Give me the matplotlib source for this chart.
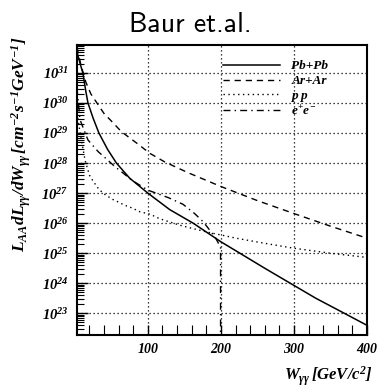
import numpy as np
import matplotlib
matplotlib.use("Agg")
import matplotlib.pyplot as plt
from matplotlib.ticker import LogLocator, NullFormatter, MultipleLocator, FixedLocator

# values (exponents of L_AA dL/dW)
w_pb = [4, 8, 11, 15, 18, 25, 33, 45, 57, 75, 100, 130, 162, 200, 226, 260, 295, 330, 369, 400]
lg_pb = [31.6, 31.25, 31.0, 30.4, 30.0, 29.5, 29.0, 28.45, 28.0, 27.5, 27.0, 26.45, 26.0,
         25.38, 25.0, 24.5, 24.0, 23.5, 23.0, 22.6]

w_ar = [3, 8, 15, 22, 40, 52, 64, 85, 103, 123, 155, 200, 250, 300, 350, 400]
lg_ar = [31.85, 31.3, 30.7, 30.3, 29.65, 29.35, 29.04, 28.66, 28.32, 28.04, 27.68, 27.22,
         26.75, 26.32, 25.9, 25.5]

w_pp = [4, 8, 14, 20, 25, 32, 39, 46, 52, 59, 68, 78, 89, 103, 116, 144, 180, 221, 260, 299, 350, 400]
lg_pp = [29.5, 28.9, 28.1, 27.6, 27.4, 27.16, 26.99, 26.88, 26.79, 26.71, 26.6, 26.51, 26.38,
         26.3, 26.15, 25.93, 25.71, 25.5, 25.33, 25.17, 25.0, 24.86]

w_ee = [3, 7, 18, 32, 45, 55, 66, 78, 100, 128, 148, 164, 176, 192, 199.5, 199.5]
lg_ee = [30.5, 29.45, 28.77, 28.38, 28.1, 27.88, 27.67, 27.43, 27.1, 26.85, 26.63, 26.32,
         26.04, 25.54, 25.2, 22.0]

labels = ["Pb+Pb", "Ar+Ar", "p p", "$e^{+}e^{-}$"]
x_ticks = [100, 200, 300, 400]

plt.rcParams['font.family'] = ['Liberation Serif', 'DejaVu Serif']
plt.rcParams['font.weight'] = 'bold'
plt.rcParams['font.style'] = 'italic'
plt.rcParams['mathtext.fontset'] = 'custom'
plt.rcParams['mathtext.rm'] = 'Liberation Serif:italic:bold'
plt.rcParams['mathtext.it'] = 'Liberation Serif:italic:bold'
plt.rcParams['mathtext.bf'] = 'Liberation Serif:italic:bold'

fig = plt.figure(figsize=(3.78, 3.88), dpi=100)
ax = fig.add_axes([0.2037, 0.1366, 0.7673, 0.7474])

ax.plot(w_pb, 10 ** np.array(lg_pb), color='k', lw=1.1, label=labels[0])
ax.plot(w_ar, 10 ** np.array(lg_ar), color='k', lw=1.0, ls=(0, (4.5, 3.5)), label=labels[1])
ax.plot(w_pp, 10 ** np.array(lg_pp), color='k', lw=1.0, ls=(0, (1, 2.5)), label=labels[2])
ax.plot(w_ee, 10 ** np.array(lg_ee), color='k', lw=1.0, ls=(0, (5, 3, 1, 3)), label=labels[3])

ax.set_yscale('log')
ax.set_xlim(3, 400)
ax.set_ylim(1.9e22, 8.5e31)

ax.xaxis.set_major_locator(FixedLocator(x_ticks))
ax.xaxis.set_minor_locator(MultipleLocator(20))
ax.yaxis.set_major_locator(LogLocator(base=10, numticks=30))
ax.yaxis.set_minor_locator(LogLocator(base=10, subs=np.arange(2, 10), numticks=200))
ax.yaxis.set_minor_formatter(NullFormatter())

ax.tick_params(which='both', direction='in', top=False, right=False)
ax.tick_params(axis='y', which='major', length=8, width=1, labelsize=10.5, pad=6)
ax.tick_params(axis='y', which='minor', length=5, width=0.8)
ax.tick_params(axis='x', which='major', length=7, width=1, labelsize=10, pad=6)
ax.tick_params(axis='x', which='minor', length=7, width=0.8)
for s in ax.spines.values():
    s.set_linewidth(1.5)

ax.grid(which='major', color='k', lw=0.9, ls=(0, (1, 2.2)))

leg = ax.legend(loc='upper left', bbox_to_anchor=(0.503, 0.948), frameon=False,
                fontsize=9.5, handlelength=4.3, handletextpad=0.9, labelspacing=0.2,
                borderpad=0, borderaxespad=0)

ax.set_ylabel(r'$L_{AA}dL_{\gamma\gamma}/dW_{\gamma\gamma}\,[cm^{-2}s^{-1}GeV^{-1}]$', fontsize=12.5)
ax.yaxis.set_label_coords(-0.15, 0.66)
ax.set_xlabel(r'$W_{\gamma\gamma}\,[GeV/c^{2}]$', fontsize=12, ha='right', va='center')
ax.xaxis.set_label_coords(1.02, -0.141)

fig.text(0.503, 0.936, 'Baur et.al.', family=['cmss10', 'DejaVu Sans'], style='normal',
         weight='normal', fontsize=20, ha='center', va='center')

fig.savefig('out.png', dpi=100)
